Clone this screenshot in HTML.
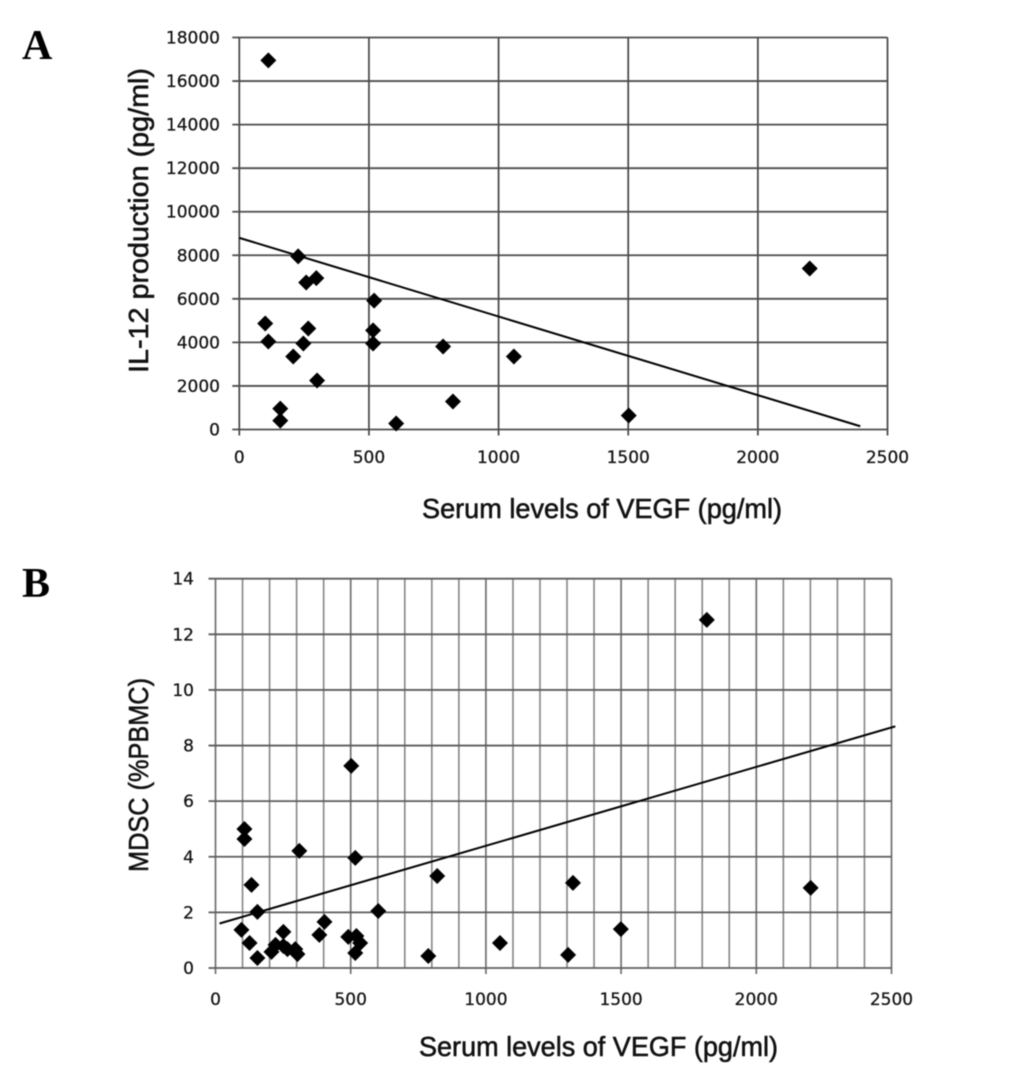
<!DOCTYPE html>
<html lang="en">
<head>
<meta charset="utf-8">
<title>VEGF correlation scatter plots</title>
<style>
html,body{margin:0;padding:0;background:#fff;width:1033px;height:1067px;overflow:hidden}
svg{display:block;filter:blur(0.4px)}
.tick{font-family:"DejaVu Sans",sans-serif;font-size:17px;fill:#111;stroke:#111;stroke-width:.25px}
.title{font-family:"Liberation Sans",sans-serif;font-size:28px;fill:#111;stroke:#111;stroke-width:.55px}
.panel{font-family:"Liberation Serif",serif;font-size:42px;font-weight:bold;fill:#000}
</style>
</head>
<body>
<svg id="figure" width="1033" height="1067" viewBox="0 0 1033 1067" xmlns="http://www.w3.org/2000/svg">
  <rect width="1033" height="1067" fill="#fff"/>
  <text class="panel" x="22" y="59">A</text>
  <text class="panel" x="22" y="597">B</text>
  <text class="title" x="422" y="518" textLength="360" lengthAdjust="spacingAndGlyphs">Serum levels of VEGF (pg/ml)</text>
  <text class="title" transform="translate(148,373) rotate(-90)" textLength="305" lengthAdjust="spacingAndGlyphs">IL-12 production (pg/ml)</text>
  <text class="title" x="419" y="1056" textLength="359" lengthAdjust="spacingAndGlyphs">Serum levels of VEGF (pg/ml)</text>
  <text class="title" transform="translate(148,872) rotate(-90)" textLength="194" lengthAdjust="spacingAndGlyphs">MDSC (%PBMC)</text>
  <g id="chart-a"></g>
  <g id="chart-b"></g>
</svg>
<script>
const xTicksA = [0, 500, 1000, 1500, 2000, 2500];
const yTicksA = [0, 2000, 4000, 6000, 8000, 10000, 12000, 14000, 16000, 18000];
const vegfA = [112, 227, 297, 258, 100, 266, 112, 247, 208, 300, 158, 158, 520, 516, 516, 786, 824, 605, 1059, 1502, 2200];
const il12A = [16950, 7950, 6950, 6750, 4870, 4640, 4040, 3950, 3350, 2250, 960, 410, 5920, 4550, 3950, 3810, 1285, 275, 3350, 640, 7390];
const trendXA = [0, 2395];
const trendYA = [8800, 150];

const xTicksB = [0, 500, 1000, 1500, 2000, 2500];
const yTicksB = [0, 2, 4, 6, 8, 10, 12, 14];
const minorXB = [100, 200, 300, 400, 600, 700, 800, 900, 1100, 1200, 1300, 1400, 1600, 1700, 1800, 1900, 2100, 2200, 2300, 2400];
const vegfB = [96, 126, 155, 107, 107, 133, 155, 207, 222, 251, 251, 266, 295, 303, 310, 384, 403, 491, 502, 517, 517, 521, 535, 602, 787, 820, 1052, 1304, 1322, 1499, 1817, 2201];
const mdscB = [1.37, 0.9, 0.36, 5.0, 4.64, 2.99, 2.02, 0.58, 0.83, 1.3, 0.79, 0.68, 0.68, 0.5, 4.21, 1.19, 1.66, 1.12, 7.27, 0.54, 3.96, 1.15, 0.9, 2.05, 0.43, 3.31, 0.9, 0.47, 3.06, 1.4, 12.52, 2.88];
const trendXB = [15, 2514];
const trendYB = [1.6, 8.69];

const NS = 'http://www.w3.org/2000/svg';
function make(parent, tag, attrs) {
  const el = document.createElementNS(NS, tag);
  for (const k in attrs) el.setAttribute(k, attrs[k]);
  parent.appendChild(el);
  return el;
}
function scale(d0, d1, r0, r1) {
  return v => r0 + (v - d0) * (r1 - r0) / (d1 - d0);
}
function drawChart(root, o) {
  const sx = scale(0, o.xMax, o.left, o.right);
  const sy = scale(0, o.yMax, o.bottom, o.top);
  (o.minorX || []).forEach(v => {
    const l = make(root, 'line', {x1: sx(v), x2: sx(v), y1: o.top, y2: o.bottom, stroke: o.minorColor, 'stroke-width': 1.6});
    
    
  });
  o.xTicks.forEach(v => {
    const l = make(root, 'line', {x1: sx(v), x2: sx(v), y1: o.top, y2: o.bottom + 6, stroke: o.xColor, 'stroke-width': 1.7});
    
    
    const t = make(root, 'text', {x: sx(v), y: o.xLabelY, 'text-anchor': 'middle', class: 'tick'});
    t.textContent = v;
    
    
  });
  o.yTicks.forEach(v => {
    const l = make(root, 'line', {x1: o.left - 7, x2: o.right, y1: sy(v), y2: sy(v), stroke: o.yColor, 'stroke-width': 1.8});
    
    
    const t = make(root, 'text', {x: o.yLabelX, y: sy(v) + 6, 'text-anchor': 'end', class: 'tick'});
    t.textContent = v;
    
    
  });
  const trend = make(root, 'line', {x1: sx(o.trendX[0]), y1: sy(o.trendY[0]), x2: sx(o.trendX[1]), y2: sy(o.trendY[1]), stroke: '#000', 'stroke-width': 2});
  
  
  const r = 8;
  o.xs.forEach((v, i) => {
    const cx = sx(v), cy = sy(o.ys[i]);
    const p = make(root, 'polygon', {points: [cx, cy - r, cx + r, cy, cx, cy + r, cx - r, cy].join(','), fill: '#000'});
    
    
  });
}
drawChart(document.getElementById('chart-a'), {
  left: 239.3, right: 887.5, top: 37.5, bottom: 429.5, xMax: 2500, yMax: 18000,
  xTicks: xTicksA, yTicks: yTicksA, xs: vegfA, ys: il12A, trendX: trendXA, trendY: trendYA,
  xLabelY: 463, yLabelX: 220, xColor: '#444', yColor: '#4c4c4c'
});
drawChart(document.getElementById('chart-b'), {
  left: 215.5, right: 891.5, top: 578.7, bottom: 968, xMax: 2500, yMax: 14,
  xTicks: xTicksB, yTicks: yTicksB, minorX: minorXB, xs: vegfB, ys: mdscB, trendX: trendXB, trendY: trendYB,
  xLabelY: 1005, yLabelX: 194, xColor: '#707070', yColor: '#5c5c5c', minorColor: '#858585'
});
</script>
</body>
</html>
